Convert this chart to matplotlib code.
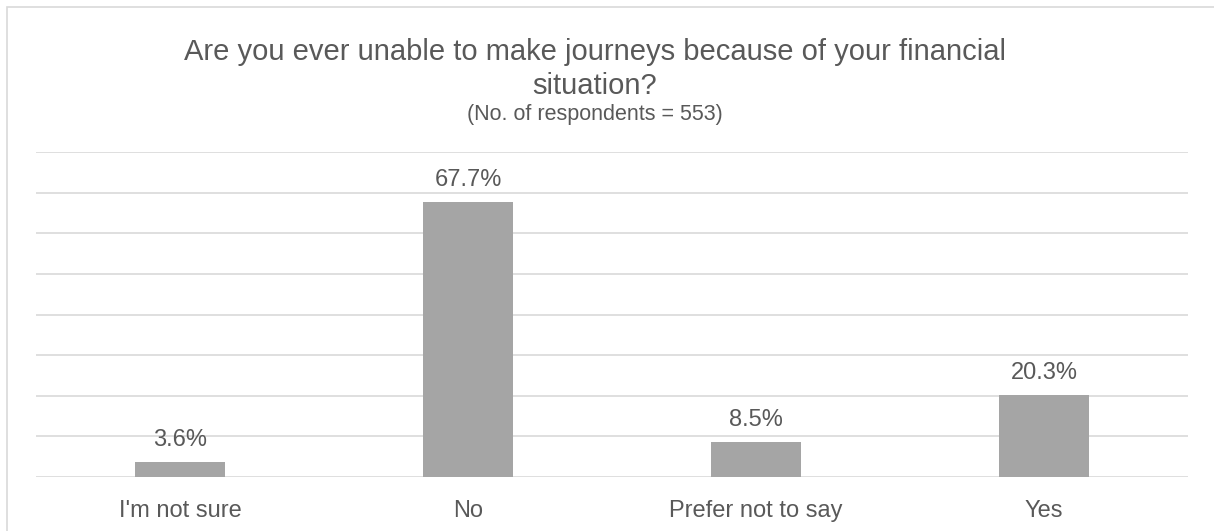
import matplotlib
matplotlib.use("Agg")
import matplotlib.pyplot as plt
from matplotlib.patches import Rectangle

plt.rcParams['font.family'] = ['Liberation Sans', 'DejaVu Sans']

categories = ["I'm not sure", "No", "Prefer not to say", "Yes"]
values = [3.6, 67.7, 8.5, 20.3]
value_labels = ["3.6%", "67.7%", "8.5%", "20.3%"]

title_line1 = "Are you ever unable to make journeys because of your financial"
title_line2 = "situation?"
subtitle = "(No. of respondents = 553)"

W, H, DPI = 1214, 531, 100
TEXT = "#595959"
GRID = "#D9D9D9"
BAR = "#A5A5A5"

fig = plt.figure(figsize=(W / DPI, H / DPI), dpi=DPI)
fig.patch.set_facecolor("white")

# chart frame (left and top edges visible)
fig.patches.append(Rectangle((7 / W, -0.5), 2.0, 1 - 7 / H + 0.5,
                             transform=fig.transFigure, fill=False,
                             edgecolor=GRID, linewidth=1.2))

ax = fig.add_axes([36 / W, 1 - 477 / H, (1188 - 36) / W, (477 - 152) / H])
x = range(len(categories))
ax.bar(x, values, width=0.3125, color=BAR, zorder=3)
ax.set_xlim(-0.5, len(categories) - 0.5)
ax.set_ylim(0, 80)
ax.set_yticks(range(0, 81, 10))
ax.yaxis.grid(True, color=GRID, linewidth=1.2, zorder=0)
ax.tick_params(axis='y', left=False, labelleft=False)
ax.tick_params(axis='x', bottom=False, pad=13, labelsize=17, labelcolor=TEXT)
ax.set_xticks(list(x))
ax.set_xticklabels(categories)
for s in ax.spines.values():
    s.set_visible(False)

for xi, v, lab in zip(x, values, value_labels):
    ax.annotate(lab, (xi, v), xytext=(0, 11.5), textcoords="offset points",
                ha="center", va="baseline", fontsize=17, color=TEXT)

cx = 595 / W
fig.text(cx, 1 - 60 / H, title_line1, ha="center", va="baseline", fontsize=21, color=TEXT)
fig.text(cx, 1 - 94 / H, title_line2, ha="center", va="baseline", fontsize=21, color=TEXT)
fig.text(cx, 1 - 120 / H, subtitle, ha="center", va="baseline", fontsize=15.5, color=TEXT)

fig.savefig("out.png", dpi=DPI, facecolor="white")
